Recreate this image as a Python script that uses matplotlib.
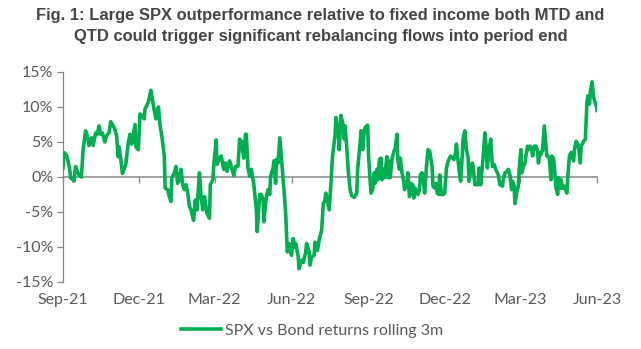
import matplotlib
matplotlib.use("Agg")
import matplotlib.pyplot as plt
import matplotlib.dates as mdates
from matplotlib.ticker import FuncFormatter
import pandas as pd

# Rolling 3m return gap, SPX minus bonds (%), sampled along calendar days
start_date = "2021-09-01"
end_date = "2023-06-01"
day_offset = [
    0, 1, 4, 6, 8, 9, 12, 13, 15, 17, 20, 22, 24, 27, 29, 31, 34, 36, 39, 41,
    43, 45, 47, 50, 52, 55, 57, 59, 62, 64, 66, 67, 69, 71, 73, 75, 77, 78, 80, 82,
    84, 86, 87, 90, 92, 94, 97, 98,
    102, 105, 107, 109, 111, 114, 116, 118, 121, 122, 125, 127, 129, 130, 133, 135,
    137, 139, 141, 143, 145, 147, 149, 151, 153, 156, 158, 160, 163, 165, 167, 169,
    172, 175, 176, 179, 180, 183, 184, 187, 189, 192, 194, 196, 199, 201, 204, 206,
    209, 211, 213, 216, 218, 219, 221, 223, 225, 227, 228, 231, 232, 235, 237, 239,
    240, 242, 243, 245, 247, 248, 251, 252, 254, 255, 257, 259, 262, 264, 266, 268,
    270, 273, 275, 277, 278, 281, 282, 285, 287, 290, 291, 294, 295, 297, 300, 301,
    304, 306, 309, 311, 313, 314, 316,
    318, 320, 322, 325, 326, 329, 330, 332, 334, 336, 337, 339, 341, 343, 345, 348,
    351, 352, 355, 356, 358, 360, 361, 364, 365, 367, 368, 370, 372, 373, 375, 376,
    378, 380, 381, 383, 384, 387, 388, 390, 391, 393, 395, 397, 399, 400, 402, 403,
    405, 407, 408, 411, 412, 414, 415, 418, 419, 421, 423,
    424, 426, 427, 429, 431, 432, 434, 436, 438, 441, 442, 444, 446, 447, 449, 450,
    452, 454, 456, 458, 459, 461, 463, 466, 467, 469, 470, 472, 474, 475, 477, 478,
    480, 482, 484, 485, 487, 489, 490, 492, 493, 496, 497, 499, 501, 502, 504, 505,
    507, 509, 511, 513, 515, 517, 520, 522, 525, 526, 528, 529,
    532, 534, 536, 537, 539, 540, 542, 544, 545, 547, 548, 550, 552, 553, 555, 556,
    558, 560, 561, 563, 565, 567, 568, 570, 571, 573, 575, 576, 578, 579, 581, 583,
    584, 586, 587, 589, 591, 592, 594, 595, 597, 599, 600, 602, 603, 605, 607, 608,
    610, 611, 613, 615, 616, 618, 619, 622, 624, 626, 627, 629, 630, 632, 634, 635,
    637, 638,
]
spx_vs_bond = [
    1.3, 3.5, 3.2, 2.3, 1.1, -0.1, -0.4, -0.6, 1.5, 0.8, 0.1, 0.0, 3.9, 6.6, 5.9, 4.5, 5.6, 4.5, 6.3, 6.1,
    7.3, 6.1, 6.3, 5.0, 5.9, 6.3, 7.9, 7.5, 6.8, 5.9, 2.9, 4.3, 2.5, 0.5, 1.1, 1.8, 3.9, 4.9, 6.1, 4.7,
    6.1, 7.5, 4.3, 3.9, 9.0, 8.8, 8.3, 9.7,
    10.7, 12.4, 10.9, 9.5, 8.3, 10.0, 7.3, 5.9, 3.0, -1.6, -1.8, -2.8, -3.5, -0.1, 0.6, 1.5,
    -0.9, -0.4, 1.1, -1.1, -1.8, -1.1, -2.3, -4.2, -4.7, -6.2, -3.3, -4.7, 0.6, -2.8, -4.7, -2.8,
    -5.2, -5.9, -1.1, -0.4, 1.5, 5.3, 1.8, 2.7, 3.0, 1.1, 2.0, 0.8, 2.3, 1.5, 0.2, 1.5,
    1.5, 5.4, 5.1, 2.7, 6.1, 6.1, 1.3, 0.1, 1.1, -0.4, -1.1, -4.7, -7.8, -2.5, -2.5, -3.3,
    -6.4, -3.8, -2.8, -1.8, -2.5, 0.1, 1.3, 2.3, -0.9, 2.5, 2.0, 5.6, 1.1, -1.8, -5.2, -10.7,
    -9.5, -11.2, -8.8, -10.0, -9.5, -11.4, -13.1, -11.9, -12.2, -10.7, -9.5, -10.7, -12.6, -11.4, -11.2, -9.3,
    -10.5, -9.0, -7.6, -3.8, -3.3, -2.3, -3.5,
    -4.7, -1.1, 3.0, 5.9, 8.5, 6.3, 3.9, 8.8, 7.8, 5.4, 7.3, 4.2, 0.6, -1.8, -2.7, -2.9,
    -2.3, 1.1, 4.9, 6.6, 3.9, 6.6, 7.1, 7.4, 3.0, -0.6, -2.3, -1.8, 0.6, -0.9, 1.1, -0.4,
    2.5, 2.7, -0.4, 1.1, -0.1, 2.9, -0.1, 2.3, -0.1, 2.5, 3.5, 4.2, 6.1, 2.5, 1.1, 2.7,
    0.6, -0.6, -1.8, -1.1, 0.6, -2.8, -0.9, -1.1, -3.0, -1.6, -2.2,
    -2.5, -1.8, 0.3, 0.6, -0.9, -2.3, 1.1, 3.9, 3.7, 1.5, -1.3, -1.6, -0.9, -2.3, -2.5, 0.3,
    -2.5, -2.5, -2.3, 1.1, 1.8, 2.5, 3.0, 2.6, 2.5, 3.5, 4.7, 2.3, 0.1, -0.6, 3.0, 5.4,
    6.6, 3.9, 2.7, -0.6, 0.8, 2.0, 1.5, -1.1, -1.1, -1.1, 1.3, -1.1, 1.5, 3.0, 6.3, 5.1,
    1.3, 3.9, 5.4, 1.5, 1.8, 1.1, 0.3, -1.1, -1.3, -0.4, 0.6, 0.6,
    1.1, 0.3, -1.8, -0.6, -1.3, -3.8, -2.3, -1.3, 1.1, 3.9, 0.6, 1.5, 2.0, 3.0, 4.4, 3.9,
    4.4, 3.9, 3.0, 4.4, 4.4, 3.7, 2.0, 3.5, 3.2, 3.9, 7.3, 5.9, 3.0, 3.0, 2.7, -0.4,
    3.0, 2.7, 1.5, -1.6, -2.5, -0.1, -1.6, -0.4, -1.6, -1.3, -1.6, -2.3, -0.1, 3.0, 3.5, 3.2,
    2.3, 3.9, 5.1, 4.7, 4.2, 2.0, 4.4, 5.1, 5.4, 10.7, 11.6, 10.4, 12.1, 13.6, 11.4, 10.9,
    10.2, 9.5,
]
y_ticks = [-15, -10, -5, 0, 5, 10, 15]
title_text = ("Fig. 1: Large SPX outperformance relative to fixed income both MTD and\n"
              "QTD could trigger significant rebalancing flows into period end")
series_label = "SPX vs Bond returns rolling 3m"

dates = pd.Timestamp(start_date) + pd.to_timedelta(day_offset, unit="D")

line_green = "#00b050"
axis_grey = "#868686"
text_grey = "#595959"
tick_font = "Lato"
tick_size = 11.5

fig = plt.figure(figsize=(6.41, 3.49), dpi=100)
ax = fig.add_axes([0.0983, 0.192, 0.8331, 0.6017])

ax.plot(dates, spx_vs_bond, color=line_green, lw=2.6, solid_joinstyle="round",
        label=series_label, zorder=3)

ax.set_xlim(pd.Timestamp(start_date), pd.Timestamp(end_date))
ax.set_ylim(min(y_ticks), max(y_ticks))
ax.set_yticks(y_ticks)
ax.yaxis.set_major_formatter(FuncFormatter(lambda v, _: f"{v:.0f}%"))

for side in ("top", "right"):
    ax.spines[side].set_visible(False)
ax.spines["left"].set_color(axis_grey)
ax.spines["left"].set_linewidth(0.9)
ax.spines["bottom"].set_position(("data", 0))
ax.spines["bottom"].set_color(axis_grey)
ax.spines["bottom"].set_linewidth(1.1)
ax.spines["bottom"].set_zorder(2)

ax.xaxis.set_major_locator(mdates.MonthLocator(bymonth=[3, 6, 9, 12]))
ax.tick_params(axis="x", direction="out", length=4, width=0.9, color=axis_grey,
               labelbottom=False)
ax.tick_params(axis="y", direction="out", length=4, width=0.9, color=axis_grey,
               labelcolor=text_grey, labelsize=tick_size, pad=3)
for lbl in ax.get_yticklabels():
    lbl.set_fontfamily(tick_font)

# Month labels sit along the bottom of the plot area, not on the zero line
sec = ax.secondary_xaxis("bottom")
sec.xaxis.set_major_locator(mdates.MonthLocator(bymonth=[3, 6, 9, 12]))
sec.xaxis.set_major_formatter(mdates.DateFormatter("%b-%y"))
sec.spines["bottom"].set_visible(False)
sec.tick_params(axis="x", length=0, pad=8, labelsize=tick_size, labelcolor=text_grey)
for lbl in sec.get_xticklabels():
    lbl.set_fontfamily(tick_font)

fig.text(0.5, 0.978, title_text, ha="center", va="top", fontsize=11.9,
         fontweight="bold", color="#454545", family="Liberation Sans",
         linespacing=1.55)

leg = fig.legend(loc="center", bbox_to_anchor=(0.487, 0.052), frameon=False,
                 handlelength=2.5, handletextpad=0.25,
                 prop={"family": tick_font, "size": tick_size})
for t in leg.get_texts():
    t.set_color(text_grey)

fig.savefig("out.png", dpi=100, facecolor="white")
